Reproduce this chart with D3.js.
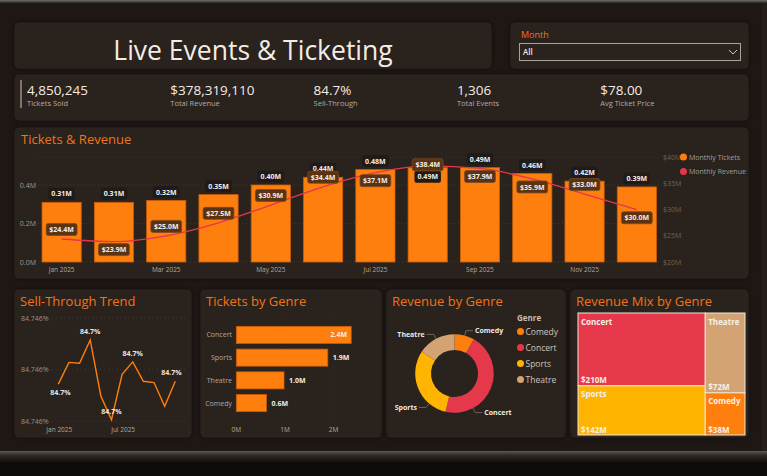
<!DOCTYPE html>
<html>
<head>
<meta charset="utf-8">
<script src="https://cdn.jsdelivr.net/npm/d3@7"></script>
<style>
  html, body { margin: 0; padding: 0; background: #0e0b09; }
  svg { display: block; font-family: "Open Sans", "Noto Sans", sans-serif; }
</style>
</head>
<body>
<svg id="dash" width="767" height="476"></svg>
<script>
// ---- data ----
var months = ["Jan 2025","Feb 2025","Mar 2025","Apr 2025","May 2025","Jun 2025",
              "Jul 2025","Aug 2025","Sep 2025","Oct 2025","Nov 2025","Dec 2025"];
var monthlyTickets = [0.31, 0.31, 0.32, 0.35, 0.40, 0.44, 0.48, 0.49, 0.49, 0.46, 0.42, 0.39]; // millions
var monthlyRevenue = [24.4, 23.9, 25.0, 27.5, 30.9, 34.4, 37.1, 38.4, 37.9, 35.9, 33.0, 30.0]; // $M
var sellThrough = [84.745944, 84.746028, 84.746025, 84.746115, 84.745898, 84.745806,
                   84.745982, 84.746030, 84.745955, 84.745950, 84.745858, 84.745955];
var sellThroughLabelled = [0, 3, 5, 7, 11];

var genres = ["Comedy", "Concert", "Sports", "Theatre"];
var genreTickets = [0.62, 2.36, 1.88, 0.98];   // millions
var genreRevenue = [38, 210, 142, 72];         // $M

var kpiValues = ["4,850,245", "$378,319,110", "84.7%", "1,306", "$78.00"];
var kpiLabels = ["Tickets Sold", "Total Revenue", "Sell-Through", "Total Events", "Avg Ticket Price"];

var leftTicks = [0, 0.2, 0.4];
var rightTicks = [20, 25, 30, 35, 40];
var monthTickShown = ["Jan 2025","Mar 2025","May 2025","Jul 2025","Sep 2025","Nov 2025"];

var genreColor = d3.scaleOrdinal().domain(genres)
  .range(["#ff7f0e", "#e5384b", "#ffb400", "#d4a373"]);

var orange = "#ff7f0e";
var titleOrange = "#f07419";
var panelFill = "#2a211e";

var svg = d3.select("#dash");

// ---- page background ----
var defs = svg.append("defs");
var topG = defs.append("linearGradient").attr("id", "topStrip").attr("x1", 0).attr("x2", 0).attr("y1", 0).attr("y2", 1);
topG.append("stop").attr("offset", 0).attr("stop-color", "#707070");
topG.append("stop").attr("offset", 1).attr("stop-color", "#2a2624");
var botG = defs.append("linearGradient").attr("id", "botStrip").attr("x1", 0).attr("x2", 0).attr("y1", 0).attr("y2", 1);
botG.append("stop").attr("offset", 0).attr("stop-color", "#5e5a58");
botG.append("stop").attr("offset", 0.35).attr("stop-color", "#2e2a28");
botG.append("stop").attr("offset", 1).attr("stop-color", "#0e0b09");
var shadow = defs.append("filter").attr("id", "shadow").attr("x", "-10%").attr("y", "-10%").attr("width", "120%").attr("height", "120%");
shadow.append("feDropShadow").attr("dx", 0).attr("dy", 0).attr("stdDeviation", 2.5)
  .attr("flood-color", "#000").attr("flood-opacity", 0.45);

svg.append("rect").attr("width", 767).attr("height", 476).attr("fill", "#0e0b09");
svg.append("rect").attr("x", 0).attr("y", 0).attr("width", 767).attr("height", 451).attr("fill", "#1e1714");
svg.append("rect").attr("x", 0).attr("y", 0).attr("width", 767).attr("height", 3).attr("fill", "url(#topStrip)");
svg.append("rect").attr("x", 762).attr("y", 3).attr("width", 5).attr("height", 448).attr("fill", "#241e1b");
svg.append("rect").attr("x", 0).attr("y", 451).attr("width", 767).attr("height", 12).attr("fill", "url(#botStrip)");

function panel(x, y, w, h) {
  svg.append("rect").attr("x", x).attr("y", y).attr("width", w).attr("height", h)
    .attr("rx", 4).attr("fill", panelFill).attr("stroke", "#2f2622").attr("stroke-width", 0.8)
    .attr("filter", "url(#shadow)");
}
function panelTitle(x, y, text) {
  svg.append("text").attr("x", x).attr("y", y).attr("fill", titleOrange)
    .attr("font-size", 13).text(text);
}

panel(15, 23, 476, 45);
panel(511, 23, 237, 45);
panel(15, 75, 733, 45);
panel(15, 128, 733, 150);
panel(15, 290, 176, 147);
panel(201, 290, 180, 147);
panel(387, 290, 178, 147);
panel(571, 290, 177, 147);

// ---- title & slicer ----
svg.append("text").attr("x", 253).attr("y", 60).attr("text-anchor", "middle")
  .attr("fill", "#f4ece4").attr("font-size", 26.5).attr("font-weight", 400)
  .text("Live Events & Ticketing");

svg.append("text").attr("x", 521).attr("y", 38).attr("fill", titleOrange)
  .attr("font-size", 9).text("Month");
svg.append("rect").attr("x", 519.5).attr("y", 43.5).attr("width", 221).attr("height", 17)
  .attr("fill", "none").attr("stroke", "#a8a19c").attr("stroke-width", 1);
svg.append("text").attr("x", 523).attr("y", 55).attr("fill", "#ede6e0")
  .attr("font-size", 8).attr("font-weight", 600).text("All");
svg.append("path").attr("d", "M729,50 L733,54 L737,50").attr("fill", "none")
  .attr("stroke", "#cfc8c2").attr("stroke-width", 1);

// ---- KPI strip ----
svg.append("line").attr("x1", 21).attr("x2", 21).attr("y1", 80).attr("y2", 108)
  .attr("stroke", "#9a918a").attr("stroke-width", 1.5);
var kpi = svg.append("g").selectAll("g").data(kpiValues).enter().append("g")
  .attr("transform", function(d, i) { return "translate(" + (27 + i * 143.3) + ",0)"; });
kpi.append("text").attr("y", 95).attr("fill", "#f4ece4").attr("font-size", 13.5)
  .text(function(d) { return d; });
kpi.append("text").attr("y", 106).attr("fill", "#b5aaa2").attr("font-size", 7.5)
  .text(function(d, i) { return kpiLabels[i]; });

// ---- Tickets & Revenue combo ----
panelTitle(21, 144, "Tickets & Revenue");

var x = d3.scaleBand().domain(months).range([35.5, 663]).paddingInner(0.25).paddingOuter(0.125);
var yT = d3.scaleLinear().domain([0, 0.5]).range([262, 165.75]);
var yR = d3.scaleLinear().domain([20, 40]).range([262, 157.5]);

var combo = svg.append("g");
combo.selectAll("line.grid").data(leftTicks).enter().append("line")
  .attr("x1", 38).attr("x2", 660)
  .attr("y1", function(d) { return yT(d); }).attr("y2", function(d) { return yT(d); })
  .attr("stroke", "#4a3f3a").attr("stroke-width", 0.8).attr("stroke-dasharray", "1,3");
combo.append("line").attr("x1", 38).attr("x2", 660).attr("y1", yR(40)).attr("y2", yR(40))
  .attr("stroke", "#3c332f").attr("stroke-width", 0.8).attr("stroke-dasharray", "1,3");

combo.selectAll("text.lt").data(leftTicks).enter().append("text")
  .attr("x", 36).attr("y", function(d) { return yT(d) + 2.5; }).attr("text-anchor", "end")
  .attr("fill", "#a39991").attr("font-size", 7)
  .text(function(d) { return d3.format(".1f")(d) + "M"; });
combo.selectAll("text.rt").data(rightTicks).enter().append("text")
  .attr("x", 663).attr("y", function(d) { return yR(d) + 2.5; })
  .attr("fill", "#6c635d").attr("font-size", 7)
  .text(function(d) { return "$" + d + "M"; });
combo.selectAll("text.xt").data(monthTickShown).enter().append("text")
  .attr("x", function(d) { return x(d) + x.bandwidth() / 2; }).attr("y", 272)
  .attr("text-anchor", "middle").attr("fill", "#b3a89f").attr("font-size", 6.5)
  .text(function(d) { return d; });

combo.selectAll("rect.bar").data(monthlyTickets).enter().append("rect")
  .attr("x", function(d, i) { return x(months[i]); })
  .attr("y", function(d) { return yT(d); })
  .attr("width", x.bandwidth())
  .attr("height", function(d) { return yT(0) - yT(d); })
  .attr("fill", orange).attr("stroke", "#c75c08").attr("stroke-width", 0.8);

var revLine = d3.line()
  .x(function(d, i) { return x(months[i]) + x.bandwidth() / 2; })
  .y(function(d) { return yR(d); })
  .curve(d3.curveMonotoneX);
combo.append("path").datum(monthlyRevenue).attr("d", revLine)
  .attr("fill", "none").attr("stroke", "#e6364e").attr("stroke-width", 1.3);

// label placement: -1 above the point, 1 below, 0 on it
var revLabelSide = [-1, 1, -1, -1, -1, -1, 1, 0, 1, 1, -1, 1];
var revLabelY = monthlyRevenue.map(function(d, i) {
  var s = revLabelSide[i];
  return yR(d) + (s < 0 ? -9.5 : s > 0 ? 8 : -1);
});

function labelBox(g, cx, cy, text, fill, stroke) {
  var w = text.length * 4.3 + 5;
  g.append("rect").attr("x", cx - w / 2).attr("y", cy - 6).attr("width", w).attr("height", 12)
    .attr("rx", 2).attr("fill", fill).attr("stroke", stroke).attr("stroke-width", stroke ? 0.8 : 0);
  g.append("text").attr("x", cx).attr("y", cy + 2.6).attr("text-anchor", "middle")
    .attr("fill", "#f3ede8").attr("font-size", 7).attr("font-weight", 700).text(text);
}

var labels = svg.append("g");
monthlyTickets.forEach(function(d, i) {
  var cx = x(months[i]) + x.bandwidth() / 2;
  var ly = yT(d) - 8.5;
  if (Math.abs(ly - revLabelY[i]) < 7) ly = yT(d) + 9;
  labelBox(labels, cx, ly, d.toFixed(2) + "M", "#201a18", null);
});
monthlyRevenue.forEach(function(d, i) {
  var cx = x(months[i]) + x.bandwidth() / 2;
  labelBox(labels, cx, revLabelY[i], "$" + d.toFixed(1) + "M", "#5a3313", "#7a4a22");
});

var legend = svg.append("g").selectAll("g").data(["Monthly Tickets", "Monthly Revenue"]).enter().append("g")
  .attr("transform", function(d, i) { return "translate(683.5," + (157 + i * 14.5) + ")"; });
legend.append("circle").attr("r", 3.5).attr("fill", function(d, i) { return i ? "#e6364e" : orange; });
legend.append("text").attr("x", 5.5).attr("y", 2.5).attr("fill", "#a79e97").attr("font-size", 7)
  .text(function(d) { return d; });

// ---- Sell-Through Trend ----
panelTitle(20, 306, "Sell-Through Trend");
var xS = d3.scalePoint().domain(months).range([58.3, 175.3]);
var yS = d3.scaleLinear().domain([84.7458, 84.7462]).range([421.3, 318]);
var stTicks = [84.7458, 84.746, 84.7462];
var st = svg.append("g");
st.selectAll("line").data(stTicks).enter().append("line")
  .attr("x1", 48).attr("x2", 186)
  .attr("y1", function(d) { return yS(d); }).attr("y2", function(d) { return yS(d); })
  .attr("stroke", "#4a3f3a").attr("stroke-width", 0.8).attr("stroke-dasharray", "1,3");
st.selectAll("text.yt").data(stTicks).enter().append("text")
  .attr("x", 21).attr("y", function(d) { return yS(d) + 2.5; })
  .attr("fill", "#9c928a").attr("font-size", 7)
  .text(function(d) { return d3.format(".3f")(d) + "%"; });
st.selectAll("text.xt").data(["Jan 2025", "Jul 2025"]).enter().append("text")
  .attr("x", function(d) { return xS(d) + 1; }).attr("y", 431.5).attr("text-anchor", "middle")
  .attr("fill", "#b3a89f").attr("font-size", 6.5).text(function(d) { return d; });
st.append("path").datum(sellThrough)
  .attr("d", d3.line().x(function(d, i) { return xS(months[i]); }).y(function(d) { return yS(d); }))
  .attr("fill", "none").attr("stroke", orange).attr("stroke-width", 1.4);
st.selectAll("text.dl").data(sellThroughLabelled).enter().append("text")
  .attr("x", function(i) { return xS(months[i]) + (i === 0 ? 2 : i === 11 ? -4 : 0); })
  .attr("y", function(i) { return yS(sellThrough[i]) + (i === 0 ? 10.5 : -6); })
  .attr("text-anchor", "middle").attr("fill", "#ece6e0").attr("font-size", 7).attr("font-weight", 700)
  .text(function(i) { return d3.format(".1f")(sellThrough[i]) + "%"; });

// ---- Tickets by Genre ----
panelTitle(206, 306, "Tickets by Genre");
var genreOrder = ["Concert", "Sports", "Theatre", "Comedy"];
var yG = d3.scaleBand().domain(genreOrder).range([323.5, 414.5]).paddingInner(0.25).paddingOuter(0.125);
var xG = d3.scaleLinear().domain([0, 2.5]).range([236.3, 358]);
var tg = svg.append("g");
tg.selectAll("line").data([1, 2]).enter().append("line")
  .attr("x1", function(d) { return xG(d); }).attr("x2", function(d) { return xG(d); })
  .attr("y1", 318).attr("y2", 420)
  .attr("stroke", "#3f3531").attr("stroke-width", 0.8).attr("stroke-dasharray", "1,3");
tg.selectAll("text.xt").data([0, 1, 2]).enter().append("text")
  .attr("x", function(d) { return xG(d); }).attr("y", 431.5).attr("text-anchor", "middle")
  .attr("fill", "#b3a89f").attr("font-size", 6.5).text(function(d) { return d + "M"; });
tg.selectAll("rect").data(genreOrder).enter().append("rect")
  .attr("x", xG(0)).attr("y", function(g) { return yG(g); })
  .attr("width", function(g) { return xG(genreTickets[genres.indexOf(g)]) - xG(0); })
  .attr("height", yG.bandwidth())
  .attr("fill", orange).attr("stroke", "#c75c08").attr("stroke-width", 0.8);
tg.selectAll("text.cat").data(genreOrder).enter().append("text")
  .attr("x", 232).attr("y", function(g) { return yG(g) + yG.bandwidth() / 2 + 2.5; })
  .attr("text-anchor", "end").attr("fill", "#b3a89f").attr("font-size", 7)
  .text(function(g) { return g; });
tg.selectAll("text.val").data(genreOrder).enter().append("text")
  .each(function(g) {
    var v = genreTickets[genres.indexOf(g)];
    var inside = v > 2.2;
    d3.select(this)
      .attr("x", inside ? xG(v) - 4 : xG(v) + 5)
      .attr("text-anchor", inside ? "end" : "start");
  })
  .attr("y", function(g) { return yG(g) + yG.bandwidth() / 2 + 2.5; })
  .attr("fill", "#f3ede8").attr("font-size", 7).attr("font-weight", 700)
  .text(function(g) { return d3.format(".1f")(genreTickets[genres.indexOf(g)]) + "M"; });

// ---- Revenue by Genre donut ----
panelTitle(392, 306, "Revenue by Genre");
var cx = 454.5, cy = 373.5, rOut = 39.3, rIn = 23.5;
var pie = d3.pie().sort(null).value(function(d) { return d; });
var arcs = pie(genreRevenue);
var arc = d3.arc().innerRadius(rIn).outerRadius(rOut);
var donut = svg.append("g").attr("transform", "translate(" + cx + "," + cy + ")");
donut.selectAll("path").data(arcs).enter().append("path")
  .attr("d", arc).attr("fill", function(d, i) { return genreColor(genres[i]); });

// where the leader line leaves the ring, in degrees from 12 o'clock
var donutLabelAngle = [15, 152, 220, 332];
donut.selectAll("g.lab").data(arcs).enter().append("g").each(function(d, i) {
  var a = donutLabelAngle[i] * Math.PI / 180;
  var right = Math.sin(a) > 0;
  var p0 = [rOut * Math.sin(a), -rOut * Math.cos(a)];
  var p1 = [(rOut + 5) * Math.sin(a), -(rOut + 5) * Math.cos(a)];
  var p2 = [p1[0] + (right ? 7 : -7), p1[1]];
  var g = d3.select(this);
  g.append("polyline").attr("points", [p0, p1, p2].map(function(p) { return p.join(","); }).join(" "))
    .attr("fill", "none").attr("stroke", "#7d736c").attr("stroke-width", 0.8);
  g.append("text").attr("x", p2[0] + (right ? 2 : -2)).attr("y", p2[1] + 2.5)
    .attr("text-anchor", right ? "start" : "end")
    .attr("fill", "#efe9e4").attr("font-size", 7).attr("font-weight", 700).text(genres[i]);
});

svg.append("text").attr("x", 517).attr("y", 321).attr("fill", "#c6bcb4")
  .attr("font-size", 8).attr("font-weight", 700).text("Genre");
var dl = svg.append("g").selectAll("g").data(genres).enter().append("g")
  .attr("transform", function(d, i) { return "translate(520.5," + (331.5 + i * 16) + ")"; });
dl.append("circle").attr("r", 3.5).attr("fill", function(d) { return genreColor(d); });
dl.append("text").attr("x", 5).attr("y", 3).attr("fill", "#cfc5bd").attr("font-size", 8.5)
  .text(function(d) { return d; });

// ---- Revenue Mix treemap ----
panelTitle(576, 306, "Revenue Mix by Genre");
var root = d3.hierarchy({ children: genres.map(function(g, i) { return { name: g, value: genreRevenue[i] }; }) })
  .sum(function(d) { return d.value || 0; })
  .sort(function(a, b) { return b.value - a.value; });
d3.treemap().size([167, 122])(root);
var tm = svg.append("g").attr("transform", "translate(578,313)");
var cell = tm.selectAll("g").data(root.leaves()).enter().append("g");
cell.append("rect")
  .attr("x", function(d) { return d.x0; }).attr("y", function(d) { return d.y0; })
  .attr("width", function(d) { return d.x1 - d.x0; }).attr("height", function(d) { return d.y1 - d.y0; })
  .attr("fill", function(d) { return genreColor(d.data.name); })
  .attr("stroke", "#efe6dc").attr("stroke-width", 1);
cell.append("text").attr("x", function(d) { return d.x0 + 3; }).attr("y", function(d) { return d.y0 + 11.5; })
  .attr("fill", "#f6f0ea").attr("font-size", 8).attr("font-weight", 700)
  .text(function(d) { return d.data.name; });
cell.append("text").attr("x", function(d) { return d.x0 + 3; }).attr("y", function(d) { return d.y1 - 2.5; })
  .attr("fill", "#f6f0ea").attr("font-size", 8).attr("font-weight", 700)
  .text(function(d) { return "$" + d.data.value + "M"; });
</script>
</body>
</html>
